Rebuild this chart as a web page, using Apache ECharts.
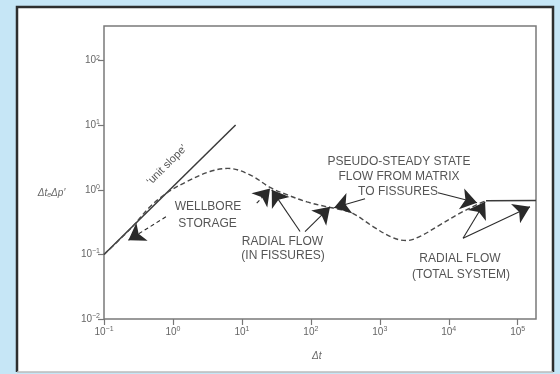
<!DOCTYPE html>
<html><head><meta charset="utf-8">
<script src="https://cdn.jsdelivr.net/npm/echarts@6/dist/echarts.min.js"></script>
<style>html,body{margin:0;padding:0;background:#c6e6f6}#c{width:560px;height:374px}</style>
</head><body><div id="c"></div>
<script>
// ---- data ----
const xRange = [0.1, 184000];      // plotted frame extent of Δt
const yRange = [0.01, 344];        // plotted frame extent of derivative
const xTickRange = [0.1, 100000];  // labelled decades 10^-1 .. 10^5
const yTickRange = [0.01, 100];    // labelled decades 10^-2 .. 10^2

const unitSlope = [[0.1, 0.1], [8.1, 10.1]];
const dualPorosity = [[0.1, 0.1], [0.238, 0.245], [0.465, 0.546], [0.81, 0.89], [1.58, 1.34], [3.44, 1.92],
  [6.28, 2.15], [13.1, 1.71], [25.6, 1.09], [45, 0.84], [88, 0.65], [171, 0.546], [239, 0.508],
  [395, 0.44], [796, 0.27], [1550, 0.181], [2455, 0.164], [3830, 0.19], [7460, 0.287],
  [14560, 0.436], [28400, 0.622], [34700, 0.676]];
const totalSystem = [[34700, 0.676], [184000, 0.685]];

// arrows: [tail, tip] in data units
const arrowWellbore = [[0.79, 0.382], [0.226, 0.166]];
const arrowFissA = [[16.4, 0.62], [25.6, 1.05]];
const arrowFissB = [[69.7, 0.226], [27.1, 1.0]];
const arrowFissC = [[82.2, 0.226], [190, 0.546]];
const arrowPssLeft = [[610, 0.726], [217, 0.527]];
const arrowPssRight = [[6980, 0.899], [25700, 0.63]];
const arrowTotalA = [[16100, 0.178], [33600, 0.652]];
const arrowTotalB = [[16100, 0.178], [150700, 0.546]];
const dashedArrows = [arrowWellbore, arrowFissA];

const annotations = [
  {t: 'WELLBORE', x: 208, y: 207}, {t: 'STORAGE', x: 207.5, y: 224},
  {t: 'RADIAL FLOW', x: 282.5, y: 241.5}, {t: '(IN FISSURES)', x: 283, y: 256},
  {t: 'PSEUDO-STEADY STATE', x: 399, y: 161.7}, {t: 'FLOW FROM MATRIX', x: 399, y: 176.5},
  {t: 'TO FISSURES', x: 398, y: 191.7},
  {t: 'RADIAL FLOW', x: 460, y: 258.3}, {t: '(TOTAL SYSTEM)', x: 461, y: 275}
];

// ---- chart ----
const chart = echarts.init(document.getElementById('c'), null, {renderer: 'canvas'});
const FONT = '"Liberation Sans", Arial, sans-serif';
const HEAD = 16;
function expLabel(v) {
  const e = Math.round(Math.log10(v));
  return '10{s|' + (e < 0 ? '\u2212' + (-e) : e) + '}';
}
const labelStyle = {color: '#666', fontSize: 10, fontFamily: FONT, formatter: expLabel,
  rich: {s: {fontSize: 7, color: '#666', fontFamily: FONT, padding: [0, 0, 6, 0]}}};
const tickStyle = {show: true, length: 6, lineStyle: {color: '#777', width: 1.2}};
const hidden = {show: false};

const graphics = [
  {type: 'rect', z: -100, shape: {x: 16, y: 6, width: 538, height: 366}, style: {fill: '#ffffff'}},
  {type: 'polyline', z: -99, shape: {points: [[17, 372], [17, 7], [553, 7], [553, 372]]},
    style: {stroke: '#2e2e2e', lineWidth: 2.5, fill: null}},
  {type: 'line', z: -99, shape: {x1: 17, y1: 372, x2: 553, y2: 372}, style: {stroke: '#bbbbbb', lineWidth: 1.5}},
  {type: 'text', z: 10, x: 316.7, y: 356, style: {text: 'Δt', font: 'italic 10px ' + FONT, fill: '#666',
    align: 'center', verticalAlign: 'middle', textAlign: 'center', textVerticalAlign: 'middle'}},
  {type: 'text', z: 10, x: 51.5, y: 193, style: {text: 'Δt{b|e}Δp\u2032', font: 'italic 10px ' + FONT, fill: '#666',
    rich: {b: {fontSize: 7, fontStyle: 'italic', fill: '#666', padding: [5, 0, 0, 0]}},
    align: 'center', verticalAlign: 'middle', textAlign: 'center', textVerticalAlign: 'middle'}},
  {type: 'text', z: 10, x: 167, y: 165, rotation: Math.PI / 4, style: {text: '\u2018unit slope\u2019',
    font: '11px ' + FONT, fill: '#555', align: 'center', verticalAlign: 'middle', textAlign: 'center', textVerticalAlign: 'middle'}}
];
annotations.forEach(a => graphics.push({type: 'text', z: 10, x: a.x, y: a.y,
  style: {text: a.t, font: '12px ' + FONT, fill: '#555', align: 'center', verticalAlign: 'middle',
    textAlign: 'center', textVerticalAlign: 'middle'}}));

const allArrows = [arrowWellbore, arrowFissA, arrowFissB, arrowFissC, arrowPssLeft, arrowPssRight, arrowTotalA, arrowTotalB];
const arrowData = allArrows.map(a => ({coords: a, lineStyle: {type: dashedArrows.includes(a) ? [4, 3] : 'solid'}}));

chart.setOption({
  backgroundColor: '#c6e6f6',
  animation: false,
  grid: [
    {left: 104, right: 24, top: 26, bottom: 55, show: true, borderColor: '#7a7a7a', borderWidth: 1.5, backgroundColor: 'transparent'},
    {left: 104, right: 42.3, top: 60.7, bottom: 55}
  ],
  xAxis: [
    {type: 'log', logBase: 10, gridIndex: 0, min: xRange[0], max: xRange[1], axisLine: hidden, axisTick: hidden, axisLabel: hidden, splitLine: hidden},
    {type: 'log', logBase: 10, gridIndex: 1, min: xTickRange[0], max: xTickRange[1], axisLine: hidden, axisTick: tickStyle,
      axisLabel: Object.assign({margin: 7}, labelStyle), splitLine: hidden}
  ],
  yAxis: [
    {type: 'log', logBase: 10, gridIndex: 0, min: yRange[0], max: yRange[1], axisLine: hidden, axisTick: hidden, axisLabel: hidden, splitLine: hidden},
    {type: 'log', logBase: 10, gridIndex: 1, min: yTickRange[0], max: yTickRange[1], axisLine: hidden, axisTick: tickStyle,
      axisLabel: Object.assign({margin: 4}, labelStyle), splitLine: hidden}
  ],
  graphic: graphics,
  series: [
    {type: 'line', xAxisIndex: 0, yAxisIndex: 0, data: unitSlope, symbol: 'none',
      lineStyle: {color: '#3a3a3a', width: 1.5}},
    {type: 'line', xAxisIndex: 0, yAxisIndex: 0, data: dualPorosity, symbol: 'none', smooth: 0.35,
      lineStyle: {color: '#4a4a4a', width: 1.4, type: [5, 3]}},
    {type: 'line', xAxisIndex: 0, yAxisIndex: 0, data: totalSystem, symbol: 'none',
      lineStyle: {color: '#3a3a3a', width: 1.5}},
    {type: 'lines', coordinateSystem: 'cartesian2d', xAxisIndex: 0, yAxisIndex: 0, z: 5,
      symbol: ['none', 'arrow'], symbolSize: HEAD,
      lineStyle: {color: '#2a2a2a', width: 1.1, opacity: 1, curveness: 0},
      itemStyle: {color: '#111'}, data: arrowData}
  ]
});
</script></body></html>
